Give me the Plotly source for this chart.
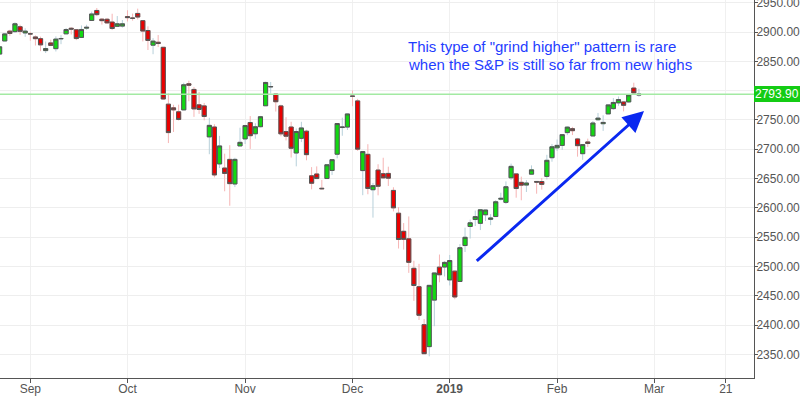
import plotly.graph_objects as go

dates = ["2018-08-24","2018-08-27","2018-08-28","2018-08-29","2018-08-30","2018-08-31",
 "2018-09-04","2018-09-05","2018-09-06","2018-09-07","2018-09-10","2018-09-11","2018-09-12",
 "2018-09-13","2018-09-14","2018-09-17","2018-09-18","2018-09-19","2018-09-20","2018-09-21",
 "2018-09-24","2018-09-25","2018-09-26","2018-09-27","2018-09-28",
 "2018-10-01","2018-10-02","2018-10-03","2018-10-04","2018-10-05","2018-10-08","2018-10-09",
 "2018-10-10","2018-10-11","2018-10-12","2018-10-15","2018-10-16","2018-10-17","2018-10-18",
 "2018-10-19","2018-10-22","2018-10-23","2018-10-24","2018-10-25","2018-10-26","2018-10-29",
 "2018-10-30","2018-10-31",
 "2018-11-01","2018-11-02","2018-11-05","2018-11-06","2018-11-07","2018-11-08","2018-11-09",
 "2018-11-12","2018-11-13","2018-11-14","2018-11-15","2018-11-16","2018-11-19","2018-11-20",
 "2018-11-21","2018-11-23","2018-11-26","2018-11-27","2018-11-28","2018-11-29","2018-11-30",
 "2018-12-03","2018-12-04","2018-12-06","2018-12-07","2018-12-10","2018-12-11","2018-12-12",
 "2018-12-13","2018-12-14","2018-12-17","2018-12-18","2018-12-19","2018-12-20","2018-12-21",
 "2018-12-24","2018-12-26","2018-12-27","2018-12-28","2018-12-31",
 "2019-01-02","2019-01-03","2019-01-04","2019-01-07","2019-01-08","2019-01-09","2019-01-10",
 "2019-01-11","2019-01-14","2019-01-15","2019-01-16","2019-01-17","2019-01-18","2019-01-22",
 "2019-01-23","2019-01-24","2019-01-25","2019-01-28","2019-01-29","2019-01-30","2019-01-31",
 "2019-02-01","2019-02-04","2019-02-05","2019-02-06","2019-02-07","2019-02-08","2019-02-11",
 "2019-02-12","2019-02-13","2019-02-14","2019-02-15","2019-02-19","2019-02-20","2019-02-21",
 "2019-02-22","2019-02-25","2019-02-26"]

opens = [2862.35,2884.69,2901.45,2900.62,2908.94,2898.37,
 2896.96,2891.59,2888.64,2868.26,2881.39,2871.57,2888.29,
 2896.85,2906.38,2903.83,2890.74,2906.60,2919.73,2936.76,
 2921.83,2921.75,2916.98,2909.64,2910.03,
 2926.29,2923.80,2931.69,2919.35,2902.54,2877.53,2882.51,
 2873.90,2776.87,2770.54,2763.83,2767.05,2811.67,2802.00,
 2775.66,2773.94,2721.03,2737.87,2674.88,2667.86,2682.65,
 2640.68,2705.60,
 2717.58,2745.45,2726.37,2738.40,2774.13,2806.38,2794.10,
 2773.93,2730.05,2737.90,2693.52,2718.54,2730.74,2654.60,
 2657.74,2633.36,2649.97,2663.75,2691.45,2736.97,2737.76,
 2790.50,2782.43,2663.51,2691.26,2630.86,2664.44,2658.23,
 2658.70,2629.68,2590.75,2559.90,2547.05,2496.77,2465.38,
 2400.56,2363.12,2442.50,2498.77,2498.94,
 2476.96,2491.92,2474.33,2535.61,2568.11,2580.00,2573.51,
 2588.11,2580.31,2585.10,2614.75,2609.28,2651.27,2657.88,
 2643.48,2638.84,2657.44,2644.97,2644.89,2653.62,2685.49,
 2702.32,2706.49,2728.34,2735.05,2717.53,2692.36,2712.40,
 2722.61,2750.30,2743.50,2760.24,2769.28,2779.05,2780.67,
 2780.67,2804.35,2792.36]

highs = [2876.16,2898.25,2903.77,2916.50,2912.46,2906.32,
 2900.18,2894.21,2892.05,2883.81,2886.93,2892.52,2894.65,
 2906.76,2908.30,2904.65,2911.17,2912.36,2934.80,2940.91,
 2923.79,2923.95,2931.15,2927.27,2920.53,
 2937.06,2931.42,2939.86,2919.78,2909.64,2889.45,2894.83,
 2874.02,2795.14,2775.77,2775.99,2813.46,2816.94,2806.04,
 2797.77,2778.94,2753.59,2742.59,2722.70,2692.38,2706.85,
 2685.43,2736.69,
 2741.67,2756.55,2744.27,2756.82,2815.15,2814.75,2794.10,
 2775.99,2754.60,2746.80,2735.38,2746.75,2733.16,2669.44,
 2670.73,2647.55,2674.35,2682.53,2744.00,2753.75,2760.88,
 2800.18,2785.93,2696.15,2708.54,2642.44,2674.35,2685.44,
 2670.19,2635.07,2601.13,2573.99,2585.29,2509.63,2504.41,
 2410.34,2467.76,2489.10,2520.27,2509.24,
 2519.49,2493.14,2538.07,2566.16,2579.82,2595.32,2597.82,
 2596.27,2589.32,2613.08,2625.76,2645.06,2675.47,2657.88,
 2653.19,2647.20,2672.38,2644.97,2650.93,2690.44,2708.95,
 2716.66,2724.99,2738.98,2738.08,2719.32,2708.07,2718.05,
 2748.19,2761.85,2757.90,2775.66,2787.33,2789.88,2781.58,
 2794.20,2813.49,2803.12]

lows = [2862.35,2884.69,2893.50,2898.40,2895.22,2891.73,
 2885.13,2876.92,2867.29,2864.12,2875.94,2866.78,2879.20,
 2896.39,2895.77,2886.16,2890.43,2903.82,2919.73,2927.11,
 2912.63,2913.70,2903.28,2909.64,2907.50,
 2917.91,2919.37,2921.36,2883.92,2869.29,2862.08,2874.27,
 2784.86,2710.51,2729.44,2749.03,2766.91,2781.81,2755.18,
 2760.27,2749.22,2691.43,2651.89,2667.84,2628.16,2603.54,
 2635.34,2705.60,
 2708.85,2700.44,2717.94,2737.08,2774.13,2794.99,2764.24,
 2722.00,2714.98,2685.75,2670.75,2712.16,2681.09,2631.52,
 2649.82,2631.09,2649.97,2655.89,2684.38,2722.94,2732.76,
 2773.38,2697.18,2621.53,2623.14,2583.23,2621.30,2650.26,
 2637.27,2593.84,2530.54,2528.71,2488.96,2441.18,2408.55,
 2351.10,2346.58,2397.94,2472.89,2482.82,
 2467.47,2443.96,2474.33,2524.56,2547.56,2568.89,2562.02,
 2577.40,2570.41,2585.10,2612.68,2606.36,2647.58,2617.27,
 2612.86,2627.01,2657.33,2624.06,2631.05,2648.34,2678.65,
 2696.88,2698.75,2724.03,2724.15,2687.26,2681.83,2703.79,
 2722.61,2748.63,2731.23,2760.24,2767.29,2774.06,2764.55,
 2779.11,2794.99,2789.47]

closes = [2874.69,2896.74,2897.52,2914.04,2901.13,2901.52,
 2896.72,2888.60,2878.05,2871.68,2877.13,2887.89,2888.92,
 2904.18,2904.98,2888.80,2904.31,2907.95,2930.75,2929.67,
 2919.37,2915.56,2905.97,2914.00,2913.98,
 2924.59,2923.43,2925.51,2901.61,2885.57,2884.43,2880.34,
 2785.68,2728.37,2767.13,2750.79,2809.92,2809.21,2768.78,
 2767.78,2755.88,2740.69,2656.10,2705.57,2658.69,2641.25,
 2682.63,2711.74,
 2740.37,2723.06,2738.31,2755.45,2813.89,2806.83,2781.01,
 2726.22,2722.18,2701.58,2730.20,2736.27,2690.73,2641.89,
 2649.93,2632.56,2673.45,2682.17,2743.79,2737.80,2760.17,
 2790.37,2700.06,2695.95,2633.08,2637.72,2636.78,2651.07,
 2650.54,2599.95,2545.94,2546.16,2506.96,2467.42,2416.62,
 2351.10,2467.70,2488.83,2485.74,2506.85,
 2510.03,2447.89,2531.94,2549.69,2574.41,2584.96,2596.64,
 2596.26,2582.61,2610.30,2616.10,2635.96,2670.71,2632.90,
 2638.70,2642.33,2664.76,2643.85,2640.00,2681.05,2704.10,
 2706.53,2724.87,2737.70,2731.61,2706.05,2707.88,2709.80,
 2744.73,2753.03,2745.73,2775.60,2779.76,2784.70,2774.88,
 2792.67,2796.11,2793.90]

holidays = ["2018-09-03","2018-11-22","2018-12-05","2018-12-25",
            "2019-01-01","2019-01-21","2019-02-18"]

tick_dates = ["2018-09-04","2018-10-01","2018-11-01","2018-12-03",
              "2019-01-02","2019-02-01","2019-03-01","2019-03-21"]
tick_labels = ["Sep","Oct","Nov","Dec","<b>2019</b>","Feb","Mar","21"]

# 2800 label is hidden behind the last-price tag in the reference
y_ticks = [2350,2400,2450,2500,2550,2600,2650,2700,2750,2850,2900,2950]

last_price = closes[-1]
note_lines = ['This type of "grind higher" pattern is rare',
              'when the S&P is still so far from new highs']

body_hi = [max(o, c) for o, c in zip(opens, closes)]
body_lo = [min(o, c) for o, c in zip(opens, closes)]

GREEN = "#12d812"
RED = "#ea0000"
OUTLINE = "#555555"
FONT = "Arial, Liberation Sans"

fig = go.Figure()
# wicks (light colored)
fig.add_trace(go.Candlestick(
    x=dates, open=opens, high=highs, low=lows, close=closes,
    increasing=dict(line=dict(color="#b7d0da", width=1), fillcolor="#b7d0da"),
    decreasing=dict(line=dict(color="#f6b4b4", width=1), fillcolor="#f6b4b4"),
    hoverinfo="skip", showlegend=False))
# bodies with dark outline
fig.add_trace(go.Candlestick(
    x=dates, open=opens, high=body_hi, low=body_lo, close=closes,
    increasing=dict(line=dict(color=OUTLINE, width=1), fillcolor=GREEN),
    decreasing=dict(line=dict(color=OUTLINE, width=1), fillcolor=RED),
    hoverinfo="skip", showlegend=False))

# 2800 grid line (its label is covered by the price tag)
fig.add_shape(type="line", xref="paper", x0=0, x1=1, yref="y",
              y0=2800, y1=2800, line=dict(color="#eeeeee", width=1), layer="below")

fig.add_shape(type="line", xref="paper", x0=0, x1=1, yref="y",
              y0=last_price, y1=last_price,
              line=dict(color="#a3eaa3", width=1.5), layer="above")

fig.add_annotation(xref="paper", x=1, xanchor="left", xshift=0,
                   yref="y", y=last_price, yanchor="middle",
                   text=f"{last_price:.2f}", showarrow=False,
                   font=dict(color="white", size=12, family=FONT),
                   bgcolor="#14cc14", borderpad=0, borderwidth=1,
                   bordercolor="#14cc14")

for line_text, ypos in zip(note_lines, [0.8765, 0.830]):
    fig.add_annotation(xref="paper", x=0.5385, xanchor="left",
                       yref="paper", y=ypos, yanchor="middle",
                       text=line_text, align="left", showarrow=False,
                       font=dict(color="#1f3dff", size=15, family=FONT))

fig.add_annotation(x="2019-02-27", y=2765, xref="x", yref="y",
                   ax="2019-01-09", ay=2507, axref="x", ayref="y",
                   text="", showarrow=True, arrowhead=2, arrowsize=1.4,
                   arrowwidth=3, arrowcolor="#0a28f0", standoff=0)

fig.update_layout(
    width=800, height=396,
    margin=dict(l=0, r=46, t=0, b=18, autoexpand=False),
    paper_bgcolor="white", plot_bgcolor="white",
    font=dict(family=FONT, size=12, color="#555555"),
    showlegend=False,
    boxgap=0.1, boxgroupgap=0.1,
    xaxis=dict(
        type="date", automargin=False,
        rangeslider=dict(visible=False),
        rangebreaks=[dict(bounds=["sat", "mon"]), dict(values=holidays)],
        range=["2018-08-24 01:45", "2019-03-28 12:00"],
        tickvals=tick_dates, ticktext=tick_labels,
        showgrid=True, gridcolor="#f0f0f0", gridwidth=1,
        showline=True, linecolor="#555555", linewidth=1,
        ticks="outside", ticklen=4, tickcolor="#555555",
        ticklabelstandoff=-4,
        tickfont=dict(size=12, color="#555555"),
        zeroline=False, fixedrange=True),
    yaxis=dict(
        side="right", range=[2309.6, 2954.6], automargin=False,
        tickvals=y_ticks, tickformat=".2f",
        ticklabeloverflow="allow", ticklabelstandoff=-4,
        showgrid=True, gridcolor="#eeeeee", gridwidth=1,
        showline=True, linecolor="#555555", linewidth=1,
        ticks="outside", ticklen=3, tickcolor="#555555",
        tickfont=dict(size=12, color="#555555"),
        zeroline=False, fixedrange=True),
)

fig.write_html("out.html", config={"displayModeBar": False},
               post_script="document.body.style.margin='0px';")
